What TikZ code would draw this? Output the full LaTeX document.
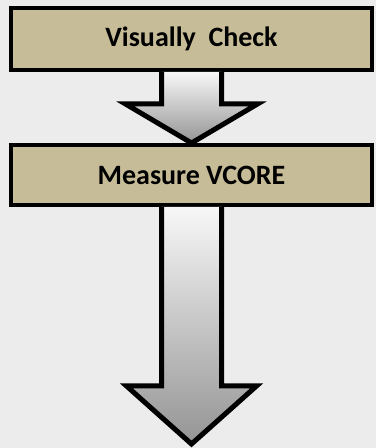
\documentclass[tikz,border=0pt]{standalone}
\usepackage{fontspec}
\setmainfont{Carlito}
\usepackage{tikz}
\usetikzlibrary{calc}
\definecolor{boxtan}{RGB}{198,189,152}
\definecolor{backgray}{RGB}{236,236,236}
\tikzstyle{stepbox}=[rectangle, draw, fill=boxtan, line width=4pt, minimum width=361pt, font=\fontsize{28}{32}\selectfont\bfseries]
\tikzstyle{blockarrow}=[draw, line width=5pt, miter limit=20, top color=black!3, bottom color=black!42]
% block arrow from #1 down to #2, head length #3, head half width #4
\newcommand{\downarrowshape}[4]{%
  \path[blockarrow] ($(#1)+(-30pt,0)$) -- ($(#2)+(-30pt,#3)$) -- ($(#2)+(-#4,#3)$) -- (#2)
    -- ($(#2)+(#4,#3)$) -- ($(#2)+(30pt,#3)$) -- ($(#1)+(30pt,0)$);}

\begin{document}
\begin{tikzpicture}[x=1pt, y=1pt]
                \fill[backgray] (0, 0) rectangle (376, 448);
                \useasboundingbox (0, 0) rectangle (376, 448);
                \node[stepbox, minimum height=62pt] (check) at (191.5, 409) {Visually~ Check};
                \node[stepbox, minimum height=60pt] (vcore) at (191.5, 273) {Measure VCORE};
                \coordinate (end) at (191.5, 4);
                \downarrowshape{check.south}{vcore.north}{39pt}{66pt}
                \downarrowshape{vcore.south}{end}{58pt}{65pt}
            \end{tikzpicture}
\end{document}
